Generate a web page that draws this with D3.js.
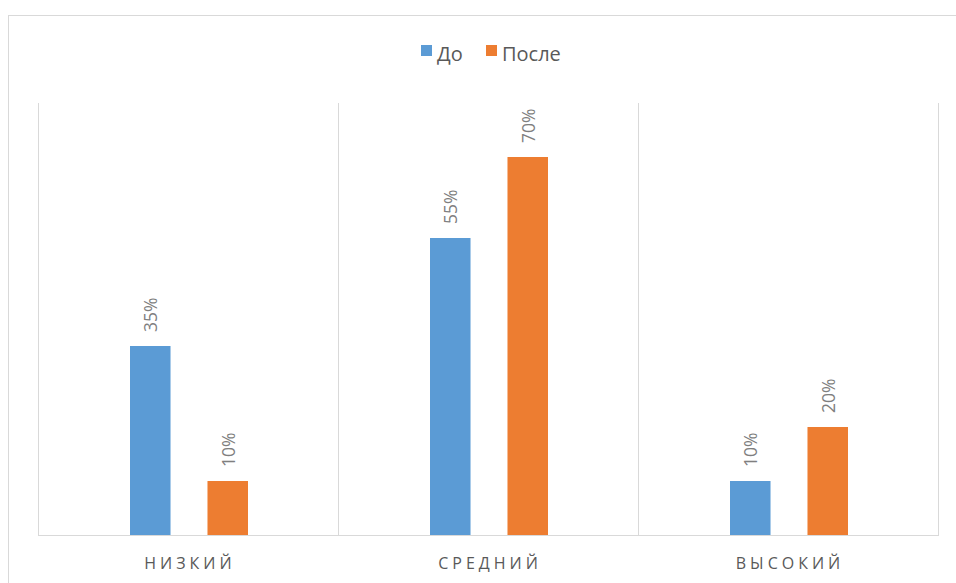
<!DOCTYPE html>
<html>
<head>
<meta charset="utf-8">
<script src="https://cdn.jsdelivr.net/npm/d3@7"></script>
<style>
  body { margin: 0; background: #fff; }
  svg { display: block; font-family: "Open Sans", "Noto Sans", sans-serif; }
  .grid line { stroke: #d9d9d9; stroke-width: 1px; }
  .label { fill: #7f7f7f; font-size: 17.5px; }
  .cat { fill: #595959; font-size: 16px; letter-spacing: 4px; }
  .legend text { fill: #595959; font-size: 20px; }
</style>
</head>
<body>
<svg width="956" height="583"></svg>
<script>
  var categories = ['НИЗКИЙ', 'СРЕДНИЙ', 'ВЫСОКИЙ']
  var series = ['До', 'После']
  var before = [35, 55, 10]
  var after = [10, 70, 20]
  var colors = ['#5b9bd5', '#ed7d31']

  var values = [before, after]
  var svg = d3.select('svg')

  // outer chart frame
  svg.append('rect')
    .attr('x', 8.5).attr('y', 15.5)
    .attr('width', 960).attr('height', 600)
    .attr('fill', '#fff')
    .attr('stroke', '#d9d9d9')

  var plotLeft = 38, plotRight = 938, plotTop = 103, plotBottom = 535

  var x = d3.scaleBand()
    .domain(categories)
    .range([plotLeft, plotRight])

  var xs = d3.scaleBand()
    .domain(series)
    .range([92, 210])
    .paddingInner(0.477)

  var y = d3.scaleLinear()
    .domain([0, 80])
    .range([plotBottom, plotTop])

  // vertical gridlines between categories
  var gridX = categories.map(function(c) { return x(c) }).concat([plotRight])
  svg.append('g').attr('class', 'grid')
    .selectAll('line')
    .data(gridX)
    .enter().append('line')
    .attr('x1', function(d) { return Math.round(d) + 0.5 })
    .attr('x2', function(d) { return Math.round(d) + 0.5 })
    .attr('y1', plotTop)
    .attr('y2', plotBottom)

  svg.append('g').attr('class', 'grid')
    .append('line')
    .attr('x1', plotLeft).attr('x2', plotRight + 1)
    .attr('y1', plotBottom + 0.5).attr('y2', plotBottom + 0.5)

  // bars
  var groups = svg.append('g')
    .selectAll('g')
    .data(categories)
    .enter().append('g')
    .attr('transform', function(d) { return 'translate(' + x(d) + ',0)' })

  groups.selectAll('rect')
    .data(function(d, i) {
      return series.map(function(s, j) { return { s: s, v: values[j][i], j: j } })
    })
    .enter().append('rect')
    .attr('x', function(d) { return xs(d.s) })
    .attr('width', xs.bandwidth())
    .attr('y', function(d) { return y(d.v) })
    .attr('height', function(d) { return plotBottom - y(d.v) })
    .attr('fill', function(d) { return colors[d.j] })

  groups.selectAll('text.label')
    .data(function(d, i) {
      return series.map(function(s, j) { return { s: s, v: values[j][i] } })
    })
    .enter().append('text')
    .attr('class', 'label')
    .attr('transform', function(d) {
      return 'translate(' + (xs(d.s) + xs.bandwidth() / 2 + 7) + ',' + (y(d.v) - 14) + ') rotate(-90)'
    })
    .text(function(d) { return d.v + '%' })

  // category labels
  svg.append('g')
    .selectAll('text')
    .data(categories)
    .enter().append('text')
    .attr('class', 'cat')
    .attr('x', function(d) { return x(d) + x.bandwidth() / 2 + 2 })
    .attr('y', 569)
    .attr('text-anchor', 'middle')
    .text(function(d) { return d })

  // legend
  var legend = svg.append('g').attr('class', 'legend')
  var lx = [421, 486]
  series.forEach(function(s, i) {
    legend.append('rect')
      .attr('x', lx[i]).attr('y', 45)
      .attr('width', 11).attr('height', 11)
      .attr('fill', colors[i])
    legend.append('text')
      .attr('x', lx[i] + 16).attr('y', 61)
      .text(s)
  })
</script>
</body>
</html>
